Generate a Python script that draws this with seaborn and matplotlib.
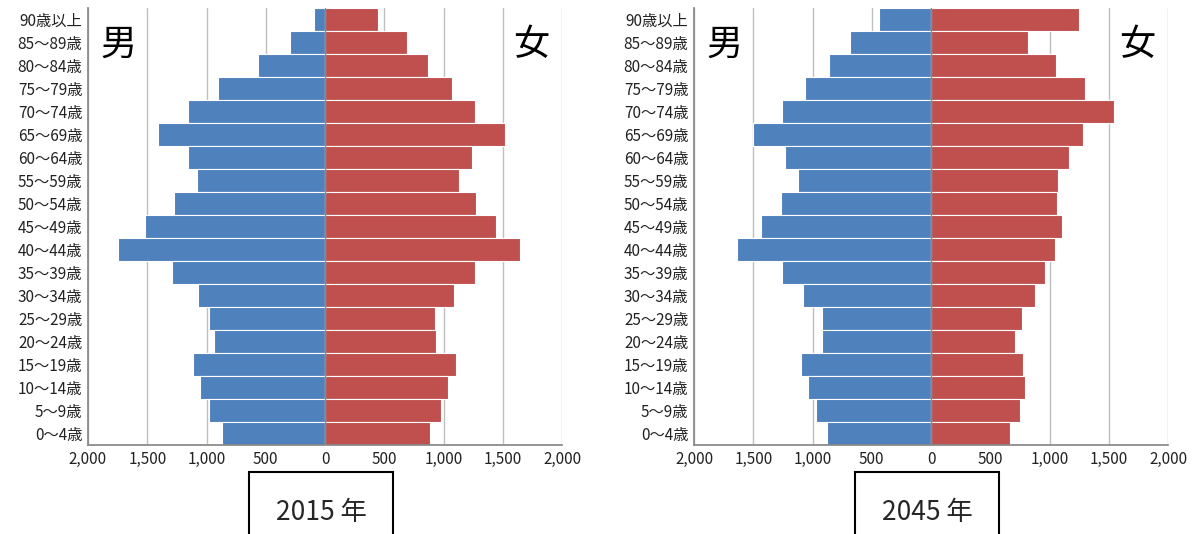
import matplotlib
matplotlib.use("Agg")
import matplotlib.pyplot as plt
import seaborn as sns
import pandas as pd
from matplotlib.ticker import FuncFormatter

ages = ["90歳以上","85～89歳","80～84歳","75～79歳","70～74歳","65～69歳","60～64歳",
        "55～59歳","50～54歳","45～49歳","40～44歳","35～39歳","30～34歳","25～29歳",
        "20～24歳","15～19歳","10～14歳","5～9歳","0～4歳"]
male_2015 = [93,295,565,903,1156,1409,1156,1080,1274,1519,1747,1291,1072,979,937,1114,1055,979,869]
female_2015 = [447,692,869,1072,1266,1519,1240,1131,1274,1443,1646,1266,1089,928,937,1105,1038,979,886]
male_2045 = [439,681,858,1061,1255,1506,1229,1122,1266,1435,1637,1257,1080,920,920,1097,1035,968,881]
female_2045 = [1245,819,1055,1303,1545,1284,1168,1072,1063,1105,1046,962,878,768,709,776,797,755,668]
years = ["2015 年", "2045 年"]

sns.set_theme(style="white")
plt.rcParams['font.family'] = ['Noto Sans CJK JP', 'DejaVu Sans']

fig = plt.figure(figsize=(12, 5.34), dpi=100)
W, H = 1200, 534
axes_px = [(88, 562), (694, 1168)]
top, bottom = 8, 445
data = [(male_2015, female_2015), (male_2045, female_2045)]
blue, red = "#4f81bd", "#c0504d"

for (x0, x1), (m, f), yr in zip(axes_px, data, years):
    ax = fig.add_axes([x0/W, 1-bottom/H, (x1-x0)/W, (bottom-top)/H])
    df = pd.DataFrame({"age": ages, "male": [-v for v in m], "female": f})
    sns.barplot(data=df, x="male", y="age", color=blue, width=1.0, ax=ax,
                edgecolor="white", linewidth=0.8, saturation=1, orient="h")
    sns.barplot(data=df, x="female", y="age", color=red, width=1.0, ax=ax,
                edgecolor="white", linewidth=0.8, saturation=1, orient="h")
    ax.set_xlim(-2000, 2000)
    ax.set_xticks(range(-2000, 2001, 500))
    ax.xaxis.set_major_formatter(FuncFormatter(lambda v, p: f"{abs(int(v)):,}"))
    ax.grid(axis="x", color="#bfbfbf", linewidth=1)
    ax.set_axisbelow(True)
    ax.set_xlabel(""); ax.set_ylabel("")
    for s in ["top", "right"]:
        ax.spines[s].set_visible(False)
    ax.spines["left"].set_color("#888888")
    ax.spines["bottom"].set_color("#888888")
    ax.axvline(0, color="#888888", linewidth=1)
    ax.tick_params(axis="both", labelsize=11, colors="#222222", length=0, pad=4)
    ax.text(0.065, 0.915, "男", transform=ax.transAxes, fontsize=26, ha="center", va="center", color="black")
    ax.text(0.935, 0.915, "女", transform=ax.transAxes, fontsize=26, ha="center", va="center", color="black")
    cx = (x0 + x1) / 2 - 4
    fig.text(cx/W, 1-512/H, yr, fontsize=19, ha="center", va="center",
             bbox=dict(boxstyle="square,pad=1.0", fc="white", ec="black", lw=1.5))

fig.savefig("out.png", dpi=100)
